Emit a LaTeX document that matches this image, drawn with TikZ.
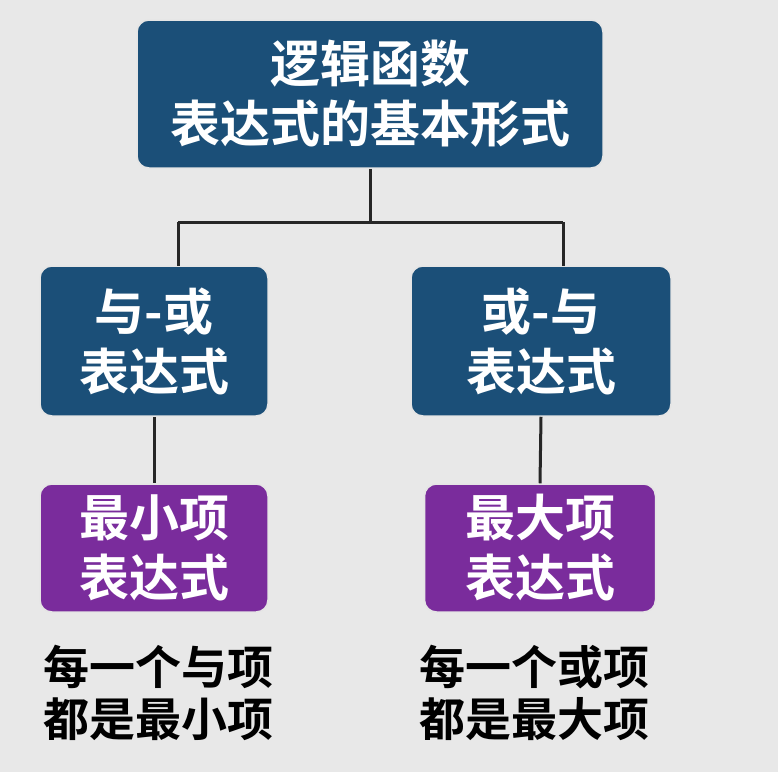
\documentclass[tikz,border=0pt]{standalone}
\usepackage{fontspec}
\newfontfamily\cjk{Noto Sans CJK SC Bold}
\definecolor{bluebox}{HTML}{1B4F78}
\definecolor{purplebox}{HTML}{7A2C9C}
\definecolor{bg}{HTML}{E8E8E8}
\begin{document}
\begin{tikzpicture}[x=1pt,y=-1pt,
  box/.style={draw=white!80!gray,line width=1.5pt,rounded corners=12pt,text=white,align=center,font=\cjk\fontsize{50}{60}\selectfont,inner sep=0pt},
  bluebox/.style={box,fill=bluebox},
  purplebox/.style={box,fill=purplebox},
  lbl/.style={align=left,font=\cjk\fontsize{46}{52}\selectfont,text=black},
  conn/.style={line width=3pt,black!85}]
\fill[bg] (0,0) rectangle (778,772);
\useasboundingbox (0,0) rectangle (778,772);
\node[bluebox,minimum width=466pt,minimum height=148pt] (top) at (370,94) {逻辑函数\\表达式的基本形式};
\node[bluebox,minimum width=228pt,minimum height=150pt] (l) at (154,341) {与-或\\表达式};
\node[bluebox,minimum width=260pt,minimum height=150pt] (r) at (541,341) {或-与\\表达式};
\node[purplebox,minimum width=228pt,minimum height=128pt] (lp) at (154,548) {最小项\\表达式};
\node[purplebox,minimum width=231pt,minimum height=128pt] (rp) at (540,548) {最大项\\表达式};
\node[lbl,anchor=north west] (lt) at (40,642) {每一个与项\\都是最小项};
\node[lbl,anchor=north west] (rt) at (416,642) {每一个或项\\都是最大项};
\coordinate (j) at (370,222);
\draw[conn] (top.south) -- (j);
\draw[conn] (178,222) -- (563,222);
\draw[conn] (178,222) -- (178,266);
\draw[conn] (563,222) -- (563,266);
\draw[conn] (l.south) -- (lp.north);
\draw[conn] (r.south) -- (rp.north);
\end{tikzpicture}
\end{document}
